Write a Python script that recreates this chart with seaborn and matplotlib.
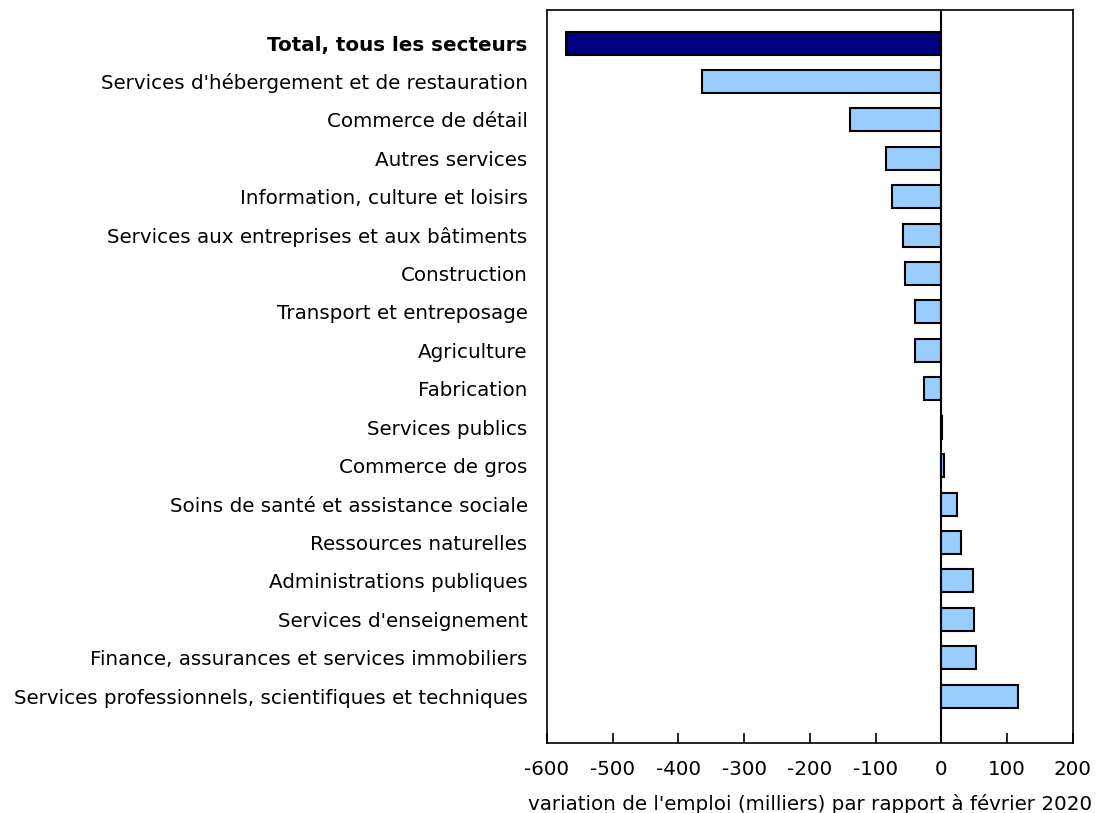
import pandas as pd
import matplotlib
matplotlib.use('Agg')
import matplotlib.pyplot as plt
import seaborn as sns

sectors = [
    'Total, tous les secteurs',
    "Services d'hébergement et de restauration",
    'Commerce de détail',
    'Autres services',
    'Information, culture et loisirs',
    'Services aux entreprises et aux bâtiments',
    'Construction',
    'Transport et entreposage',
    'Agriculture',
    'Fabrication',
    'Services publics',
    'Commerce de gros',
    'Soins de santé et assistance sociale',
    'Ressources naturelles',
    'Administrations publiques',
    "Services d'enseignement",
    'Finance, assurances et services immobiliers',
    'Services professionnels, scientifiques et techniques',
]
change = [-571, -364, -139, -84, -76, -59, -55, -41, -40, -27,
          1, 4, 23, 30, 48, 50, 53, 117]
group = ['total'] + ['secteur'] * (len(sectors) - 1)

df = pd.DataFrame({'secteur': sectors, 'variation': change, 'groupe': group})

sns.set_style('white')
plt.rcParams['font.family'] = ['DejaVu Sans']
plt.rcParams['axes.unicode_minus'] = False
plt.rcParams['text.color'] = 'black'
plt.rcParams['xtick.color'] = 'black'
plt.rcParams['ytick.color'] = 'black'
plt.rcParams['axes.labelcolor'] = 'black'

fig = plt.figure(figsize=(10.97, 8.13), dpi=100)
ax = fig.add_axes([0.4986, 0.0861, 0.4795, 0.9016])

sns.barplot(data=df, x='variation', y='secteur', hue='groupe', orient='h',
            palette={'total': '#000080', 'secteur': '#99CCFF'},
            saturation=1, edgecolor='black', linewidth=1.5, width=0.6,
            dodge=False, legend=False, ax=ax)

ax.axvline(0, color='black', linewidth=1.5, zorder=3)
ax.set_xlim(-600, 200)
ax.set_ylim(17 + 1.22, -0.86)
ax.set_xticks(range(-600, 201, 100))
ax.tick_params(axis='x', direction='in', length=7, width=1.2, pad=12,
               labelsize=14.3, bottom=True)
ax.tick_params(axis='y', length=0, pad=14, labelsize=14.3)
for s in ax.spines.values():
    s.set_color('black')
    s.set_linewidth(1.2)
ax.set_ylabel('')
ax.set_xlabel("variation de l'emploi (milliers) par rapport à février 2020",
              fontsize=14.3, labelpad=11)
ax.get_yticklabels()[0].set_fontweight('bold')

fig.savefig('out.png', dpi=100)
